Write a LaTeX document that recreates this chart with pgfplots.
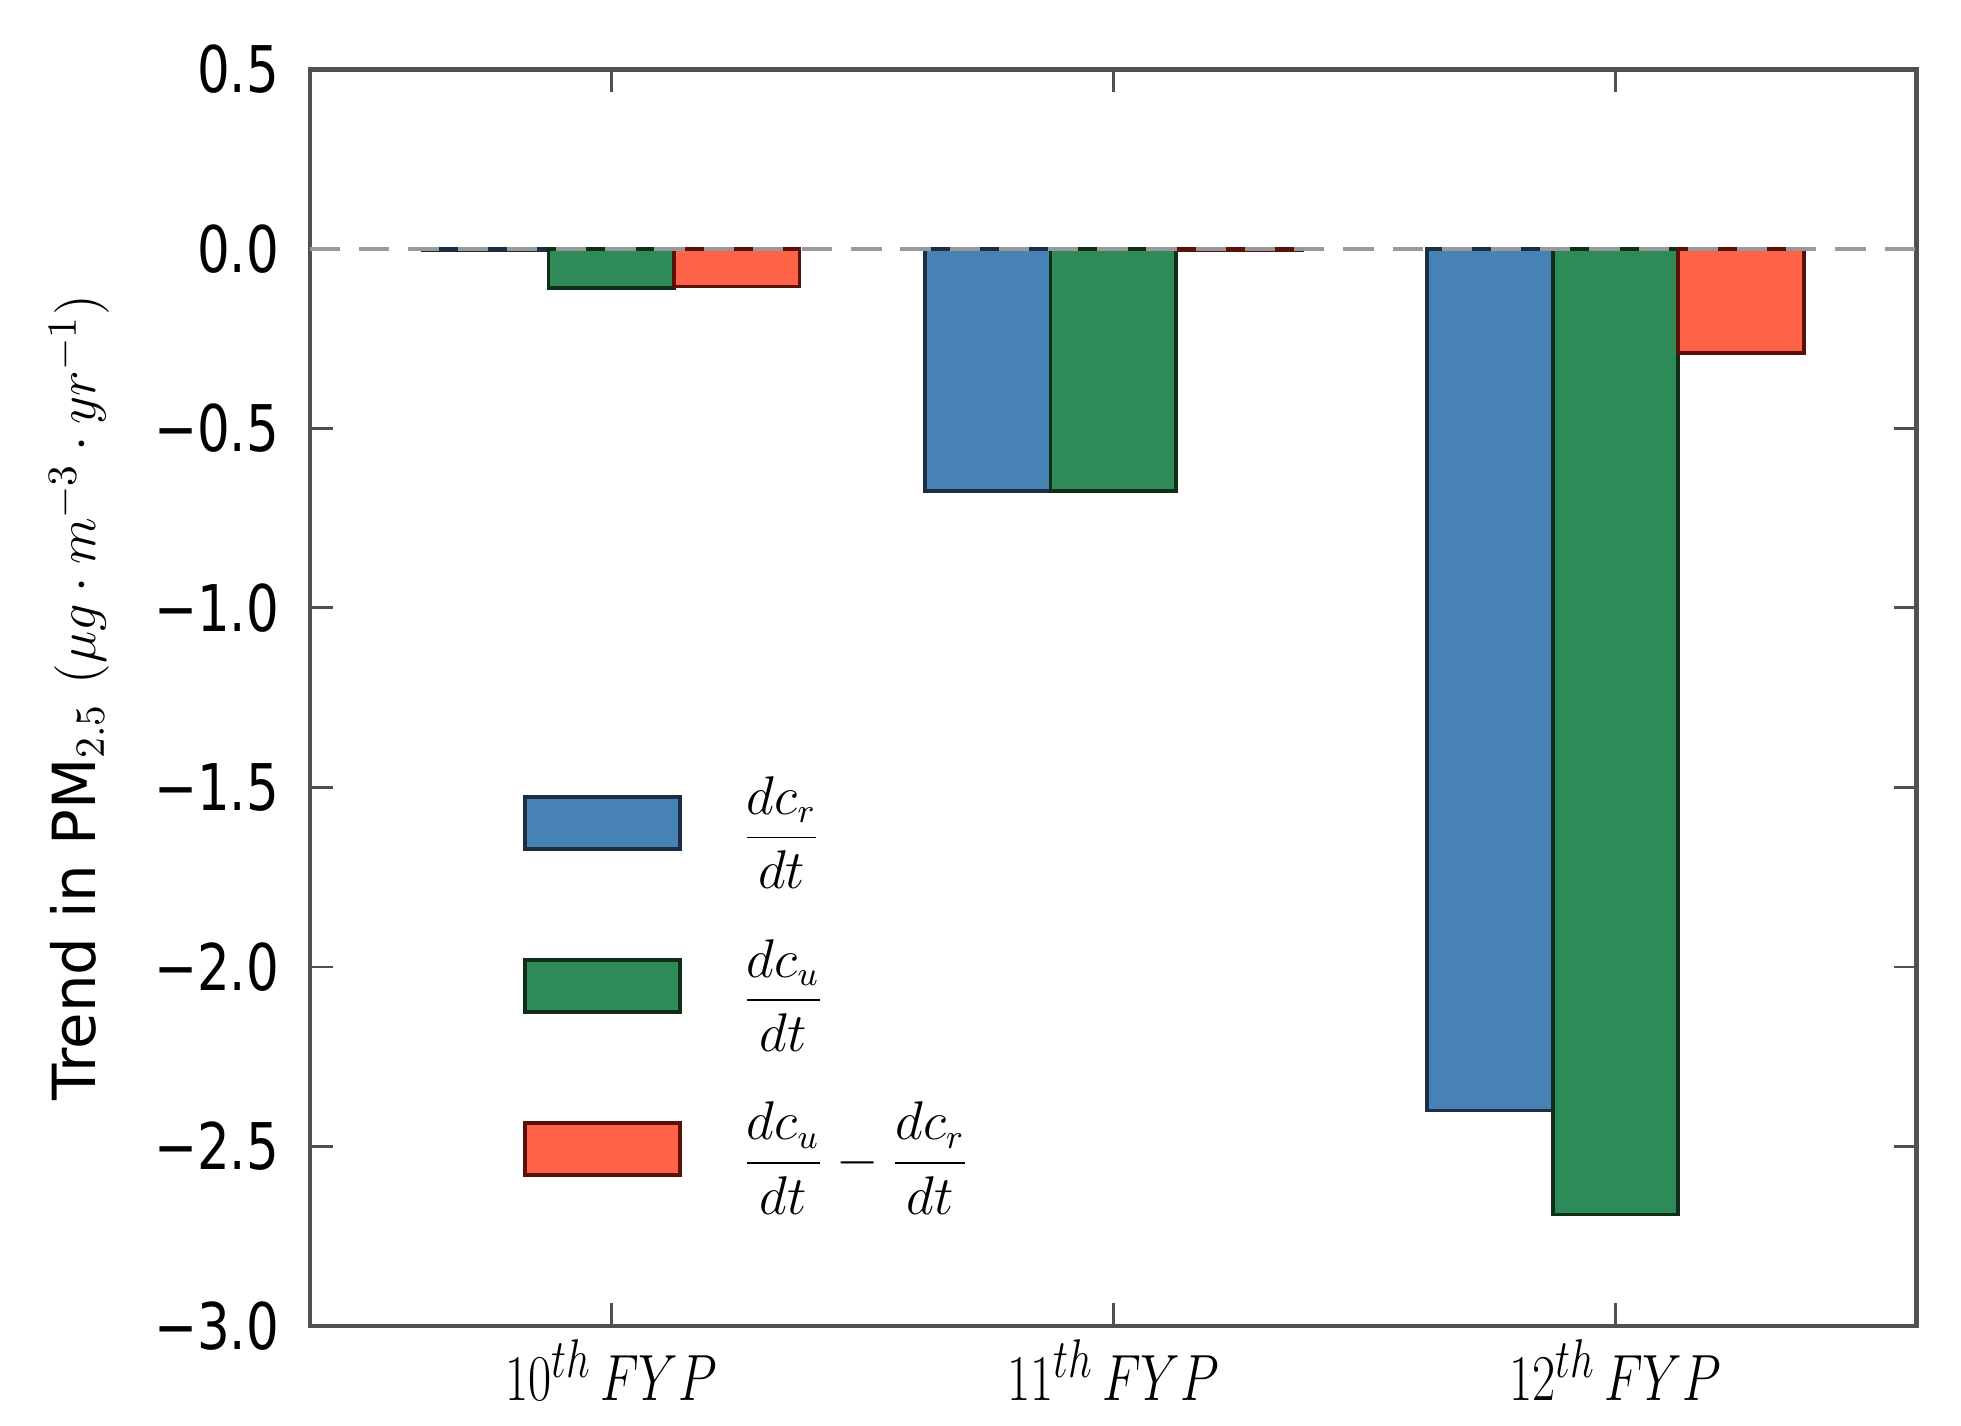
\documentclass[border=0pt]{standalone}
\usepackage{fontspec}
\setmainfont{DejaVu Sans}
\usepackage{pgfplots}
\pgfplotsset{compat=1.18}
\definecolor{cblue}{HTML}{4682B4}
\definecolor{cgreen}{HTML}{2E8B57}
\definecolor{cred}{HTML}{FF6347}
\definecolor{eblue}{HTML}{1C2E44}
\definecolor{egreen}{HTML}{0E2E1A}
\definecolor{ered}{HTML}{5A1208}
\definecolor{framegray}{HTML}{505050}
\definecolor{zerogray}{HTML}{999999}
\begin{document}
\begin{tikzpicture}
\useasboundingbox (-81.9pt,-26.4pt) rectangle (436.2pt,350.3pt);
\begin{axis}[
  at={(0pt,0pt)}, anchor=south west,
  width=424.5pt, height=332pt, scale only axis,
  xmin=-0.6, xmax=2.6, ymin=-3, ymax=0.5,
  xtick={0,1,2},
  xticklabels={$10^{th}\,FYP$,$11^{th}\,FYP$,$12^{th}\,FYP$},
  ytick={-3,-2.5,-2,-1.5,-1,-0.5,0,0.5},
  yticklabels={−3.0,−2.5,−2.0,−1.5,−1.0,−0.5,0.0,0.5},
  tick align=inside, major tick length=6pt,
  axis line style={draw=framegray, line width=1.2pt},
  tick style={color=framegray, line width=0.7pt},
  xticklabel style={font=\fontsize{19}{19}\selectfont, xscale=0.77},
  yticklabel style={font=\fontsize{17}{17}\selectfont, inner sep=0pt, xshift=-8pt, xscale=0.8},
  ylabel={Trend in PM$_{2.5}$ $(\mu g\cdot m^{-3}\cdot yr^{-1})$},
  ylabel style={font=\fontsize{15.7}{15.7}\selectfont, at={(axis description cs:-0.1436,0.5)}, anchor=center},
  legend cell align=left,
  legend image code/.code={\draw[#1] (0pt,-8.55pt) rectangle (41pt,5.05pt);},
  legend style={draw=none, fill=none, inner sep=0pt, font=\fontsize{13.5}{13.5}\selectfont,
    at={(axis description cs:0.132,0.438)}, anchor=north west,
    nodes={inner sep=0pt}, column sep=16pt, row sep=21.8pt},
]
\addplot[ybar, bar width=0.25, bar shift=0pt, fill=cblue, draw=eblue, line width=1pt]
  coordinates {(-0.25,-0.005) (0.75,-0.675) (1.75,-2.40)};
\addlegendentry{$\displaystyle\frac{dc_r}{dt}$}
\addplot[ybar, bar width=0.25, bar shift=0pt, fill=cgreen, draw=egreen, line width=1pt]
  coordinates {(0,-0.11) (1,-0.675) (2,-2.69)};
\addlegendentry{$\displaystyle\frac{dc_u}{dt}$}
\addplot[ybar, bar width=0.25, bar shift=0pt, fill=cred, draw=ered, line width=1pt]
  coordinates {(0.25,-0.105) (1.25,-0.005) (2.25,-0.29)};
\addlegendentry{$\displaystyle\frac{dc_u}{dt}-\frac{dc_r}{dt}$}
\addplot[forget plot, zerogray, line width=1pt, dash pattern=on 8pt off 5pt]
  coordinates {(-0.6,0) (2.6,0)};
\end{axis}
\end{tikzpicture}
\end{document}
